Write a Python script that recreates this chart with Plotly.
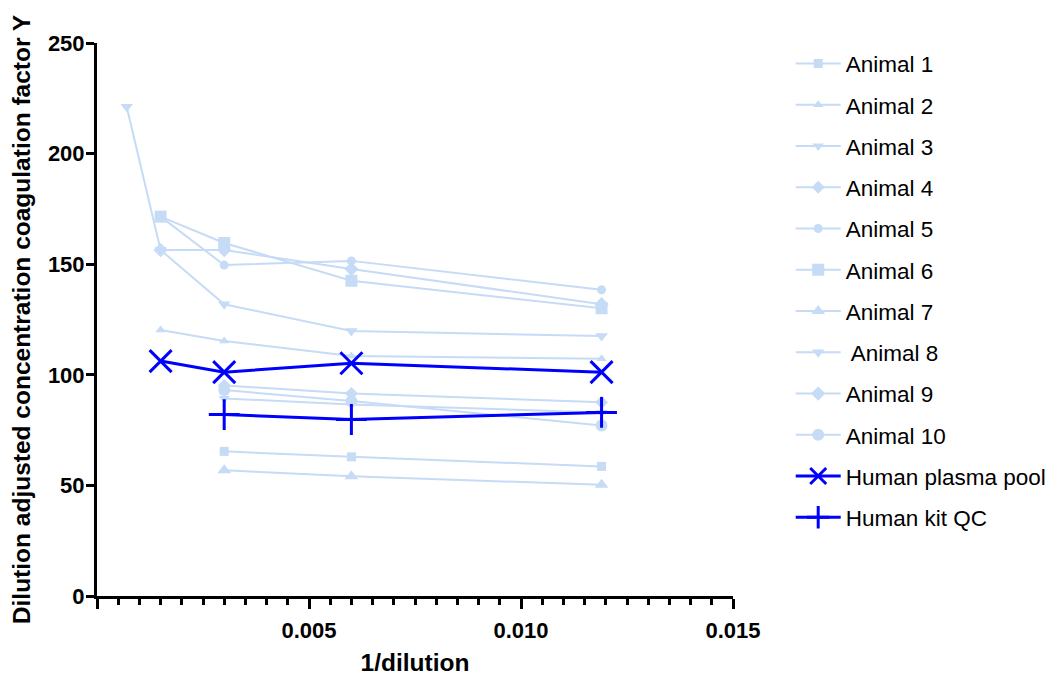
import plotly.graph_objects as go

# ---- data ----
x_long = [0.0007, 0.0015, 0.003, 0.006, 0.0119]
x_mid = [0.0015, 0.003, 0.006, 0.0119]
x_short = [0.003, 0.006, 0.0119]

animal_1 = [65.4, 62.9, 58.6]
animal_2 = [120.3, 115.3, 108.5, 107.3]
animal_3 = [89.3, 86.6, 83.0]
animal_4 = [95.2, 91.6, 87.6]
animal_5 = [171.5, 149.6, 151.5, 138.4]
animal_6 = [171.5, 159.6, 142.5, 130.1]
animal_7 = [56.8, 54.1, 50.3]
animal_8 = [221.2, 156.4, 131.9, 119.8, 117.5]
animal_9 = [156.4, 156.4, 147.8, 131.9]
animal_10 = [93.1, 88.1, 77.1]
human_pool = [106.2, 101.2, 105.2, 101.2]
human_qc = [82.0, 79.8, 83.0]

x_ticks = [0, 0.005, 0.010, 0.015]
x_ticktext = ["", "0.005", "0.010", "0.015"]
y_ticks = [0, 50, 100, 150, 200, 250]

animal_color = "#C6DBF5"
blue = "#0000FF"
FONT = "Liberation Sans, Arial, sans-serif"

animals = [
    ("Animal 1", x_short, animal_1, "square", 9),
    ("Animal 2", x_mid, animal_2, "triangle-up", 9),
    ("Animal 3", x_short, animal_3, "triangle-down", 10),
    ("Animal 4", x_short, animal_4, "diamond", 10),
    ("Animal 5", x_mid, animal_5, "circle", 9),
    ("Animal 6", x_mid, animal_6, "square", 12),
    ("Animal 7", x_short, animal_7, "triangle-up", 12),
    (" Animal 8", x_long, animal_8, "triangle-down", 11),
    ("Animal 9", x_mid, animal_9, "diamond", 11),
    ("Animal 10", x_short, animal_10, "circle", 12),
]

fig = go.Figure()
for i, (name, xs, ys, sym, sz) in enumerate(animals):
    fig.add_trace(go.Scatter(
        x=xs, y=ys, name=name, mode="lines+markers",
        legendgroup=f"g{i}",
        line=dict(color=animal_color, width=2),
        marker=dict(symbol=sym, size=sz, color=animal_color),
    ))

fig.add_trace(go.Scatter(
    x=x_mid, y=human_pool, name="Human plasma pool", mode="lines+markers",
    legendgroup="g10",
    line=dict(color=blue, width=3),
    marker=dict(symbol="x-thin-open", size=22, color=blue, line=dict(color=blue, width=3)),
))
fig.add_trace(go.Scatter(
    x=x_short, y=human_qc, name="Human kit QC", mode="lines+markers",
    legendgroup="g11",
    line=dict(color=blue, width=3),
    marker=dict(symbol="cross-thin-open", size=22, color=blue, line=dict(color=blue, width=3)),
))

title_font = dict(family=FONT, size=24.5, color="black")
tick_font = dict(family=FONT, size=22, color="black", weight="bold")

# the page body adds an 8px offset, so the figure is sized to fit the window
fig.update_layout(
    width=1045, height=668,
    paper_bgcolor="white", plot_bgcolor="white",
    margin=dict(l=89, r=320, t=35, b=80),
    font=dict(family=FONT, size=20, color="black"),
    showlegend=True,
    legend=dict(
        xref="container", yref="container",
        x=0.749, y=0.9485, xanchor="left", yanchor="top",
        traceorder="grouped", tracegroupgap=9,
        itemwidth=45,
        maxheight=660,
        font=dict(size=22.5, family=FONT, color="black"),
        bgcolor="rgba(0,0,0,0)",
    ),
    xaxis=dict(
        range=[0, 0.015], automargin=False,
        tickvals=x_ticks, ticktext=x_ticktext,
        ticks="outside", ticklen=10, tickwidth=3, tickcolor="black",
        ticklabelstandoff=3,
        minor=dict(dtick=0.0005, ticks="outside", ticklen=6, tickwidth=3, tickcolor="black", tick0=0),
        showline=True, linewidth=3, linecolor="black",
        showgrid=False, zeroline=False,
        tickfont=tick_font,
        title=dict(text="<b>1/dilution</b>", font=title_font, standoff=15),
    ),
    yaxis=dict(
        range=[0, 250], automargin=False,
        tickvals=y_ticks,
        ticks="outside", ticklen=8, tickwidth=3, tickcolor="black",
        ticklabelstandoff=-3,
        showline=True, linewidth=3, linecolor="black",
        showgrid=False, zeroline=False,
        tickfont=tick_font,
        title=dict(text="<b>Dilution adjusted concentration coagulation factor Y</b>", font=title_font, standoff=22),
    ),
)

fig.write_html("out.html")
